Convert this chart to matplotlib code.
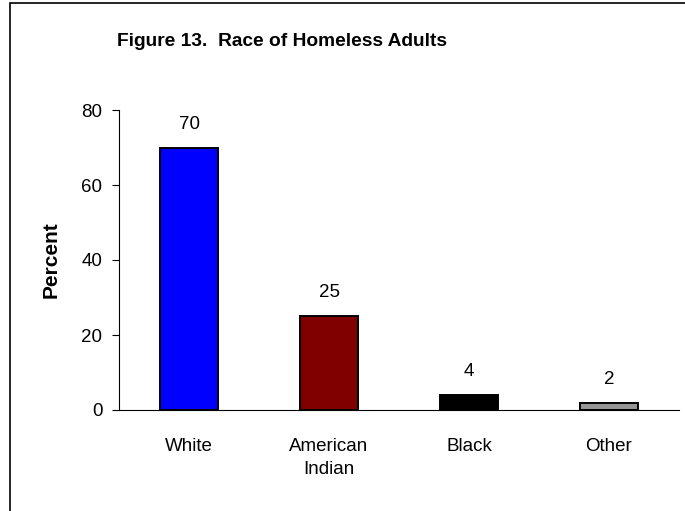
import matplotlib
matplotlib.use("Agg")
import matplotlib.pyplot as plt
from matplotlib.patches import Rectangle

plt.rcParams['font.family'] = ['Liberation Sans', 'DejaVu Sans']

# Race of homeless adults (percent)
categories = ["White", "American\nIndian", "Black", "Other"]
percents = [70, 25, 4, 2]
bar_colors = ["#0000ff", "#800000", "#000000", "#969696"]
yticks = [0, 20, 40, 60, 80]

fig = plt.figure(figsize=(6.85, 5.11), dpi=100)
ax = fig.add_axes([119 / 685, 1 - 410 / 511, 560 / 685, 300 / 511])

x = range(len(categories))
bars = ax.bar(x, percents, width=0.41, color=bar_colors,
              edgecolor="black", linewidth=1.4, zorder=3)

for xi, v in zip(x, percents):
    ax.text(xi, v + 4.0, str(v), ha="center", va="bottom", fontsize=13.5)

ax.set_xlim(-0.5, len(categories) - 0.5)
ax.set_ylim(0, 80)
ax.set_yticks(yticks)
ax.set_xticks(list(x))
ax.set_xticklabels(categories, fontsize=13.5, linespacing=1.45)
ax.tick_params(axis="x", length=0, pad=20)
ax.tick_params(axis="y", direction="out", length=5, width=0.8,
               labelsize=13.5, pad=7)

for side in ("top", "right"):
    ax.spines[side].set_visible(False)
ax.spines["left"].set_linewidth(0.8)
ax.spines["bottom"].set_linewidth(0.8)

ax.set_ylabel("Percent", fontsize=15, fontweight="bold")
ax.yaxis.set_label_coords(-0.104, 0.5)

fig.text(282 / 685, 1 - 41 / 511, "Figure 13.  Race of Homeless Adults",
         ha="center", va="center", fontsize=13.8, fontweight="bold")

# outer frame running off the right and bottom edges
fig.patches.append(Rectangle((10 / 685, -0.2), 1.2, 1.2 - 3 / 511,
                             transform=fig.transFigure, fill=False,
                             edgecolor="black", linewidth=1.2))

fig.savefig("out.png", dpi=100)
